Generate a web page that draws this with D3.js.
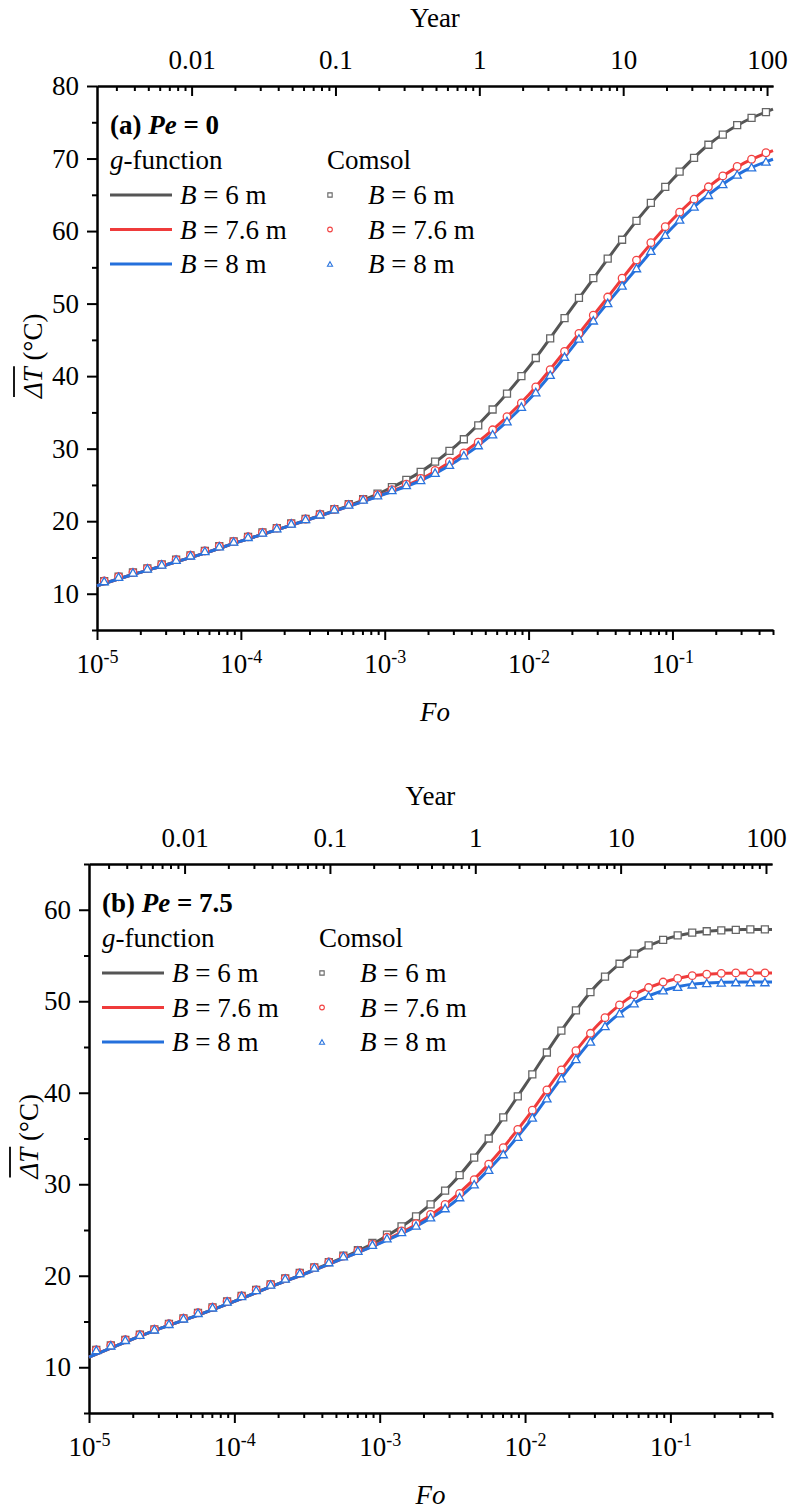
<!DOCTYPE html>
<html>
<head>
<meta charset="utf-8">
<script src="https://cdn.jsdelivr.net/npm/d3@7"></script>
<style>
  body { margin: 0; background: #fff; }
  svg text { font-family: "Liberation Serif", "Times New Roman", serif; fill: #000; }
</style>
</head>
<body>
<svg id="chart" width="791" height="1510"></svg>
<script>
// ---- Sample times (Fourier number) of the Comsol runs ----
const FO = [
  1.122e-5, 1.413e-5, 1.778e-5, 2.239e-5, 2.818e-5, 3.548e-5, 4.467e-5, 5.623e-5, 7.079e-5, 8.913e-5,
  1.122e-4, 1.413e-4, 1.778e-4, 2.239e-4, 2.818e-4, 3.548e-4, 4.467e-4, 5.623e-4, 7.079e-4, 8.913e-4,
  1.122e-3, 1.413e-3, 1.778e-3, 2.239e-3, 2.818e-3, 3.548e-3, 4.467e-3, 5.623e-3, 7.079e-3, 8.913e-3,
  1.122e-2, 1.413e-2, 1.778e-2, 2.239e-2, 2.818e-2, 3.548e-2, 4.467e-2, 5.623e-2, 7.079e-2, 8.913e-2,
  0.1122, 0.1413, 0.1778, 0.2239, 0.2818, 0.3548, 0.4467
];
// ---- Evaluation times of the g-function curves ----
const FO_LINE = [1e-5, 1.778e-5, 3.162e-5, 5.623e-5, 1e-4, 1.778e-4, 3.162e-4, 5.623e-4,
  1e-3, 1.778e-3, 3.162e-3, 5.623e-3, 1e-2, 1.778e-2, 3.162e-2, 5.623e-2, 0.1, 0.1778, 0.3162, 0.5];

// ---- (a) Pe = 0 : mean temperature rise (°C) ----
const A_GF_B6   = [11.1, 12.65, 14.1, 15.6, 17.25, 18.8, 20.45, 22.15, 24.2, 26.8, 30.5, 35.4, 41.2, 48.0, 54.8, 61.4, 67.1, 71.9, 75.1, 76.8];
const A_GF_B76  = [11.1, 12.65, 14.1, 15.6, 17.25, 18.8, 20.4, 22.05, 23.8, 25.8, 28.8, 32.6, 37.4, 43.4, 49.6, 55.9, 61.6, 66.1, 69.4, 71.1];
const A_GF_B8   = [11.1, 12.65, 14.1, 15.6, 17.25, 18.8, 20.4, 22.05, 23.75, 25.6, 28.3, 32.0, 36.7, 42.6, 48.9, 54.8, 60.5, 65.0, 68.3, 69.9];
const A_CS_B6   = [11.75, 12.35, 12.95, 13.5, 14.05, 14.7, 15.3, 15.9, 16.55, 17.2, 17.85, 18.45, 19.05, 19.7, 20.3, 20.95, 21.65, 22.35, 23.05,
  23.8, 24.7, 25.7, 26.8, 28.2, 29.7, 31.3, 33.2, 35.4, 37.6, 40.0, 42.5, 45.2, 48.0, 50.8, 53.5, 56.2, 58.8, 61.4, 63.9, 66.1, 68.2, 70.1, 71.9, 73.3, 74.6, 75.6, 76.4];
const A_CS_B76  = [11.75, 12.35, 12.95, 13.5, 14.05, 14.7, 15.3, 15.9, 16.55, 17.2, 17.85, 18.45, 19.05, 19.7, 20.3, 20.95, 21.65, 22.3, 23.0,
  23.65, 24.35, 25.1, 25.9, 27.0, 28.2, 29.4, 30.9, 32.6, 34.4, 36.3, 38.5, 40.9, 43.4, 45.9, 48.4, 50.9, 53.5, 56.0, 58.4, 60.6, 62.6, 64.4, 66.1, 67.6, 68.9, 69.9, 70.8];
const A_CS_B8   = [11.75, 12.35, 12.95, 13.5, 14.05, 14.7, 15.3, 15.9, 16.55, 17.2, 17.85, 18.45, 19.05, 19.7, 20.3, 20.95, 21.65, 22.3, 23.0,
  23.6, 24.3, 25.0, 25.7, 26.7, 27.8, 29.1, 30.5, 32.0, 33.8, 35.8, 37.8, 40.2, 42.7, 45.2, 47.7, 50.1, 52.5, 54.9, 57.3, 59.5, 61.6, 63.4, 65.0, 66.5, 67.8, 68.8, 69.6];

// ---- (b) Pe = 7.5 : mean temperature rise (°C) ----
const B_GF_B6   = [11.1, 12.75, 14.3, 15.7, 17.2, 18.8, 20.35, 22.0, 23.9, 26.5, 30.1, 35.0, 40.8, 46.8, 51.9, 55.2, 56.95, 57.65, 57.85, 57.85];
const B_GF_B76  = [11.1, 12.75, 14.3, 15.7, 17.2, 18.8, 20.3, 21.9, 23.6, 25.6, 28.4, 32.2, 37.0, 42.5, 47.4, 50.7, 52.3, 52.95, 53.1, 53.1];
const B_GF_B8   = [11.1, 12.75, 14.3, 15.7, 17.2, 18.8, 20.3, 21.9, 23.55, 25.4, 27.9, 31.6, 36.2, 41.6, 46.5, 49.8, 51.4, 52.0, 52.1, 52.1];
const B_CS_B6   = [11.9, 12.4, 13.0, 13.55, 14.15, 14.75, 15.35, 15.95, 16.55, 17.2, 17.8, 18.45, 19.05, 19.7, 20.3, 20.9, 21.5, 22.2, 22.8,
  23.6, 24.5, 25.4, 26.5, 27.8, 29.3, 31.0, 32.9, 35.0, 37.3, 39.6, 42.0, 44.4, 46.8, 49.0, 51.0, 52.7, 54.1, 55.2, 56.1, 56.7, 57.2, 57.5, 57.65, 57.75, 57.8, 57.85, 57.85];
const B_CS_B76  = [11.9, 12.4, 13.0, 13.55, 14.15, 14.75, 15.35, 15.95, 16.55, 17.2, 17.8, 18.45, 19.05, 19.7, 20.3, 20.9, 21.5, 22.15, 22.75,
  23.45, 24.2, 24.9, 25.7, 26.7, 27.8, 29.0, 30.5, 32.2, 34.0, 36.0, 38.1, 40.3, 42.5, 44.6, 46.5, 48.2, 49.6, 50.7, 51.5, 52.1, 52.5, 52.8, 52.95, 53.05, 53.1, 53.1, 53.1];
const B_CS_B8   = [11.9, 12.4, 13.0, 13.55, 14.15, 14.75, 15.35, 15.95, 16.55, 17.2, 17.8, 18.45, 19.05, 19.7, 20.3, 20.9, 21.5, 22.15, 22.75,
  23.4, 24.1, 24.8, 25.5, 26.4, 27.4, 28.6, 30.0, 31.6, 33.3, 35.2, 37.3, 39.4, 41.6, 43.7, 45.6, 47.3, 48.7, 49.8, 50.6, 51.2, 51.6, 51.85, 52.0, 52.05, 52.1, 52.1, 52.1];

// ---- Axis ticks and labels ----
const FO_DOMAIN = [1e-5, 0.5];
const YEARS_PER_FO = 220;
const FO_MAJOR = [1e-5, 1e-4, 1e-3, 1e-2, 1e-1];
const FO_EXP_LABELS = ["-5", "-4", "-3", "-2", "-1"];
const YEAR_MAJOR = [0.01, 0.1, 1, 10, 100];
const YEAR_LABELS = ["0.01", "0.1", "1", "10", "100"];
const A_Y_MAJOR = [10, 20, 30, 40, 50, 60, 70, 80];
const A_Y_MINOR = [5, 15, 25, 35, 45, 55, 65, 75];
const B_Y_MAJOR = [10, 20, 30, 40, 50, 60];
const B_Y_MINOR = [5, 15, 25, 35, 45, 55, 65];
const SPACINGS = ["6", "7.6", "8"];

// ---- Styles ----
const LINE_COLORS = ["#555555", "#ef3b3b", "#2470dc"];
const MARK_COLORS = ["#666666", "#f24444", "#2a74de"];
const FONT = 27;

const svg = d3.select("#chart");

// open marker shapes: 0 square, 1 circle, 2 triangle (centred on its box)
function markerPath(kind, s) {
  if (kind === 0) {
    const h = s / 2;
    return `M${-h},${-h}H${h}V${h}H${-h}Z`;
  }
  if (kind === 1) {
    const r = s / 2;
    return `M${r},0A${r},${r} 0 1,1 ${-r},0A${r},${r} 0 1,1 ${r},0Z`;
  }
  const w = s * 0.56, hh = s * 0.5;
  return `M0,${-hh}L${w},${hh}L${-w},${hh}Z`;
}
const MARK_SIZE = [7, 7.6, 7.4];

function styleAxis(sel) {
  sel.attr("font-family", null).attr("font-size", null);
  sel.selectAll(".domain").attr("stroke", "#000").attr("stroke-width", 2);
  sel.selectAll(".tick line").attr("stroke", "#000").attr("stroke-width", 2);
  sel.selectAll(".tick text").attr("font-size", FONT).attr("fill", "#000");
}

function drawPanel(cfg) {
  const g = svg.append("g");
  const x = d3.scaleLog().domain(FO_DOMAIN).range([cfg.left, cfg.right]);
  const xYear = d3.scaleLog().domain(FO_DOMAIN.map(f => f * YEARS_PER_FO)).range([cfg.left, cfg.right]);
  const y = d3.scaleLinear().domain(cfg.yDomain).range([cfg.bottom, cfg.top]);

  const foMinor = x.ticks().filter(t => !FO_MAJOR.some(m => Math.abs(m - t) / m < 1e-6));
  const yearMinor = xYear.ticks().filter(t => !YEAR_MAJOR.some(m => Math.abs(m - t) / m < 1e-6));

  // bottom axis (Fo)
  g.append("g").attr("transform", `translate(0,${cfg.bottom})`)
    .call(d3.axisBottom(x).tickValues(foMinor).tickSize(5).tickSizeOuter(0).tickFormat(""))
    .call(styleAxis);
  const bottom = g.append("g").attr("transform", `translate(0,${cfg.bottom})`)
    .call(d3.axisBottom(x).tickValues(FO_MAJOR).tickSize(10).tickSizeOuter(0).tickPadding(14).tickFormat(""))
    .call(styleAxis);
  bottom.selectAll(".tick text").each(function(d, i) {
    const t = d3.select(this);
    t.append("tspan").text("10");
    t.append("tspan").attr("font-size", 18).attr("dy", -10).text(FO_EXP_LABELS[i]);
  });

  // top axis (Year), ticks pointing inward
  g.append("g").attr("transform", `translate(0,${cfg.top})`)
    .call(d3.axisTop(xYear).tickValues(yearMinor).tickSize(-5).tickSizeOuter(0).tickFormat(""))
    .call(styleAxis);
  g.append("g").attr("transform", `translate(0,${cfg.top})`)
    .call(d3.axisTop(xYear).tickValues(YEAR_MAJOR).tickSize(-10).tickSizeOuter(0).tickPadding(17)
      .tickFormat((d, i) => YEAR_LABELS[i]))
    .call(styleAxis);

  // left axis
  g.append("g").attr("transform", `translate(${cfg.left},0)`)
    .call(d3.axisLeft(y).tickValues(cfg.yMinor).tickSize(5).tickSizeOuter(0).tickFormat(""))
    .call(styleAxis);
  g.append("g").attr("transform", `translate(${cfg.left},0)`)
    .call(d3.axisLeft(y).tickValues(cfg.yMajor).tickSize(10).tickSizeOuter(0).tickPadding(8))
    .call(styleAxis);

  // axis titles
  const cx = (cfg.left + cfg.right) / 2;
  g.append("text").attr("x", cx).attr("y", cfg.top - 59).attr("text-anchor", "middle")
    .attr("font-size", FONT).text("Year");
  g.append("text").attr("x", cx).attr("y", cfg.bottom + 91).attr("text-anchor", "middle")
    .attr("font-size", FONT).attr("font-style", "italic").text("Fo");

  const yt = g.append("g")
    .attr("transform", `translate(${cfg.titleX},${(cfg.top + cfg.bottom) / 2 + 40}) rotate(-90)`);
  const ytext = yt.append("text").attr("font-size", FONT);
  ytext.append("tspan").attr("font-style", "italic").text("\u0394T");
  ytext.append("tspan").text(" (\u00B0C)");
  const barLen = ytext.node().getSubStringLength(0, 2);
  yt.append("line").attr("x1", 1).attr("x2", barLen + 1).attr("y1", -28).attr("y2", -28)
    .attr("stroke", "#000").attr("stroke-width", 1.8);

  // g-function curves
  const line = d3.line().x(d => x(d[0])).y(d => y(d[1])).curve(d3.curveMonotoneX);
  cfg.lines.forEach((vals, k) => {
    g.append("path").datum(FO_LINE.map((f, i) => [f, vals[i]]))
      .attr("d", line).attr("fill", "none")
      .attr("stroke", LINE_COLORS[k]).attr("stroke-width", 3).attr("stroke-linejoin", "round");
  });

  // Comsol points
  cfg.points.forEach((vals, k) => {
    g.append("g").selectAll("path").data(FO.map((f, i) => [f, vals[i]])).join("path")
      .attr("transform", d => `translate(${x(d[0])},${y(d[1])})`)
      .attr("d", markerPath(k, MARK_SIZE[k]))
      .attr("fill", "#fff").attr("stroke", MARK_COLORS[k]).attr("stroke-width", 1.3);
  });

  // legend
  const lx = cfg.left + 13, ly = cfg.top;
  const title = g.append("text").attr("x", lx).attr("y", ly + 48).attr("font-size", FONT).attr("font-weight", "bold");
  title.append("tspan").text(cfg.tag + " ");
  title.append("tspan").attr("font-style", "italic").text("Pe");
  title.append("tspan").text(" = " + cfg.pe);

  const gf = g.append("text").attr("x", lx).attr("y", ly + 83).attr("font-size", FONT);
  gf.append("tspan").attr("font-style", "italic").text("g");
  gf.append("tspan").text("-function");
  g.append("text").attr("x", lx + 217).attr("y", ly + 83).attr("font-size", FONT).text("Comsol");

  SPACINGS.forEach((b, k) => {
    const rowY = ly + 109 + k * 34.5;
    g.append("line").attr("x1", lx).attr("x2", lx + 62).attr("y1", rowY).attr("y2", rowY)
      .attr("stroke", LINE_COLORS[k]).attr("stroke-width", 3);
    [lx + 70, lx + 258].forEach(tx => {
      const t = g.append("text").attr("x", tx).attr("y", rowY + 9).attr("font-size", FONT);
      t.append("tspan").attr("font-style", "italic").text("B");
      t.append("tspan").text(" = " + b + " m");
    });
    g.append("path").attr("transform", `translate(${lx + 220},${rowY})`)
      .attr("d", markerPath(k, MARK_SIZE[k] * 0.62))
      .attr("fill", "#fff").attr("stroke", MARK_COLORS[k]).attr("stroke-width", 1.1);
  });
}

drawPanel({
  left: 97, right: 773, top: 86, bottom: 630, titleX: 42,
  yDomain: [5, 80], yMajor: A_Y_MAJOR, yMinor: A_Y_MINOR,
  tag: "(a)", pe: "0",
  lines: [A_GF_B6, A_GF_B76, A_GF_B8],
  points: [A_CS_B6, A_CS_B76, A_CS_B8]
});
drawPanel({
  left: 89, right: 772, top: 864, bottom: 1413, titleX: 38,
  yDomain: [5, 65], yMajor: B_Y_MAJOR, yMinor: B_Y_MINOR,
  tag: "(b)", pe: "7.5",
  lines: [B_GF_B6, B_GF_B76, B_GF_B8],
  points: [B_CS_B6, B_CS_B76, B_CS_B8]
});
</script>
</body>
</html>
